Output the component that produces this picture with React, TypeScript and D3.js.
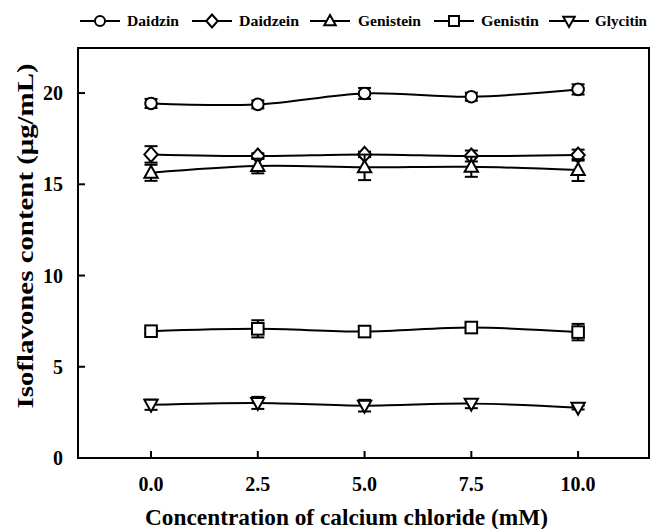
import React from "react";
import * as d3 from "d3";

const concentrations = [0, 2.5, 5, 7.5, 10];
const xTickLabels = ["0.0", "2.5", "5.0", "7.5", "10.0"];
const yTicks = [0, 5, 10, 15, 20];

const seriesNames = ["Daidzin", "Daidzein", "Genistein", "Genistin", "Glycitin"];
const daidzin = [19.43, 19.38, 19.98, 19.8, 20.2];
const daidzinErr = [0.25, 0.22, 0.3, 0.22, 0.28];
const daidzein = [16.64, 16.55, 16.64, 16.55, 16.6];
const daidzeinErr = [0.45, 0.15, 0.15, 0.3, 0.3];
const genistein = [15.63, 16.0, 15.93, 15.96, 15.78];
const genisteinErr = [0.44, 0.4, 0.7, 0.55, 0.6];
const genistin = [6.95, 7.08, 6.93, 7.15, 6.9];
const genistinErr = [0.15, 0.47, 0.15, 0.25, 0.45];
const glycitin = [2.92, 3.02, 2.87, 2.98, 2.76];
const glycitinErr = [0.28, 0.33, 0.32, 0.25, 0.1];

const seriesValues = [daidzin, daidzein, genistein, genistin, glycitin];
const seriesErrors = [daidzinErr, daidzeinErr, genisteinErr, genistinErr, glycitinErr];
const seriesSymbols = ["circle", "diamond", "triangle", "square", "triangleDown"];

const legendLineStart = [80, 192, 310, 434, 549];
const legendTextStart = [127, 239, 358, 481, 595];
const legendTextWidth = [52, 60, 63, 58, 52];

const W = 651;
const H = 529;
const left = 78;
const right = 649;
const top = 48;
const bottom = 458;

const FONT = "'Liberation Serif', 'Times New Roman', serif";

function Marker({ kind, cx, cy, s = 5.8 }: { kind: string; cx: number; cy: number; s?: number }) {
  const common = { fill: "#fff", stroke: "#000", strokeWidth: 2 };
  if (kind === "circle") return <circle cx={cx} cy={cy} r={s} {...common} />;
  if (kind === "square")
    return <rect x={cx - s} y={cy - s} width={2 * s} height={2 * s} {...common} />;
  if (kind === "diamond")
    return (
      <path
        d={`M${cx},${cy - s * 1.3}L${cx + s * 1.15},${cy}L${cx},${cy + s * 1.3}L${cx - s * 1.15},${cy}Z`}
        {...common}
      />
    );
  if (kind === "triangle")
    return (
      <path
        d={`M${cx},${cy - s * 1.2}L${cx + s * 1.15},${cy + s * 0.85}L${cx - s * 1.15},${cy + s * 0.85}Z`}
        {...common}
      />
    );
  return (
    <path
      d={`M${cx},${cy + s * 1.2}L${cx + s * 1.15},${cy - s * 0.85}L${cx - s * 1.15},${cy - s * 0.85}Z`}
      {...common}
    />
  );
}

export default function App() {
  const x = d3.scaleLinear().domain([-1.71, 11.66]).range([left, right]);
  const y = d3.scaleLinear().domain([0, 22.47]).range([bottom, top]);
  const line = d3
    .line<number>()
    .x((_, i) => x(concentrations[i]))
    .y((d) => y(d))
    .curve(d3.curveCatmullRom.alpha(0.5));

  const legendY = 21;

  return (
    <svg
      width={W}
      height={H}
      style={{ position: "absolute", left: 0, top: 0, background: "#fff" }}
      fontFamily={FONT}
    >
      <rect x={0} y={0} width={W} height={H} fill="#fff" />
      {/* legend */}
      {seriesNames.map((name, i) => (
        <g key={name}>
          <line
            x1={legendLineStart[i]}
            x2={legendLineStart[i] + 40}
            y1={legendY}
            y2={legendY}
            stroke="#000"
            strokeWidth={2}
          />
          <Marker kind={seriesSymbols[i]} cx={legendLineStart[i] + 20} cy={legendY} s={5} />
          <text
            x={legendTextStart[i]}
            y={legendY + 5}
            fontSize={15}
            fontWeight="bold"
            textLength={legendTextWidth[i]}
            lengthAdjust="spacingAndGlyphs"
          >
            {name}
          </text>
        </g>
      ))}

      {/* series */}
      {seriesValues.map((vals, si) => (
        <g key={si}>
          <path d={line(vals) || ""} fill="none" stroke="#000" strokeWidth={2} />
          {vals.map((v, i) => {
            const cx = x(concentrations[i]);
            const e = seriesErrors[si][i];
            return (
              <g key={i}>
                <line x1={cx} x2={cx} y1={y(v + e)} y2={y(v - e)} stroke="#000" strokeWidth={2} />
                <line x1={cx - 6.5} x2={cx + 6.5} y1={y(v + e)} y2={y(v + e)} stroke="#000" strokeWidth={2} />
                <line x1={cx - 6.5} x2={cx + 6.5} y1={y(v - e)} y2={y(v - e)} stroke="#000" strokeWidth={2} />
              </g>
            );
          })}
          {vals.map((v, i) => (
            <Marker key={"m" + i} kind={seriesSymbols[si]} cx={x(concentrations[i])} cy={y(v)} />
          ))}
        </g>
      ))}

      {/* frame */}
      <rect x={left} y={top} width={right - left} height={bottom - top} fill="none" stroke="#000" strokeWidth={2} />

      {/* y ticks */}
      {yTicks.map((t) => (
        <g key={t}>
          {t !== 0 && <line x1={left} x2={left + 7} y1={y(t)} y2={y(t)} stroke="#000" strokeWidth={2} />}
          <text x={63} y={y(t) + 7} fontSize={20} fontWeight="bold" textAnchor="end">
            {t}
          </text>
        </g>
      ))}

      {/* x ticks */}
      {concentrations.map((c, i) => (
        <g key={c}>
          <line x1={x(c)} x2={x(c)} y1={bottom} y2={bottom - 7} stroke="#000" strokeWidth={2} />
          <text x={x(c)} y={491} fontSize={20} fontWeight="bold" textAnchor="middle">
            {xTickLabels[i]}
          </text>
        </g>
      ))}

      {/* axis titles */}
      <text
        x={346.5}
        y={525}
        fontSize={24}
        fontWeight="bold"
        textAnchor="middle"
        textLength={403}
        lengthAdjust="spacingAndGlyphs"
      >
        Concentration of calcium chloride (mM)
      </text>
      <text
        transform={`translate(33, 236) rotate(-90)`}
        fontSize={24}
        fontWeight="bold"
        textAnchor="middle"
        textLength={345}
        lengthAdjust="spacingAndGlyphs"
      >
        Isoflavones content (μg/mL)
      </text>
    </svg>
  );
}
